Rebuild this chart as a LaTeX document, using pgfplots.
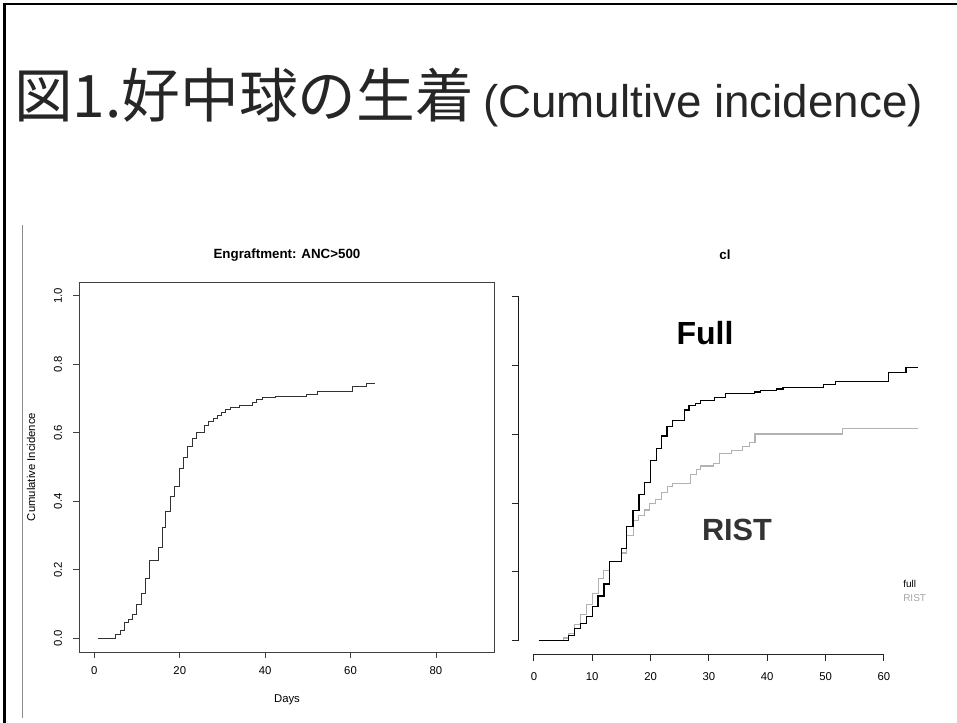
\documentclass[border=0pt]{standalone}
\usepackage{pgfplots}
\pgfplotsset{compat=1.18}
\usepackage{fontspec}
\setmainfont{Liberation Sans}
\newfontfamily\cjk{Noto Sans CJK JP}

\begin{document}
\begin{tikzpicture}
\begin{scope}[x=0.75pt,y=0.75pt]
\fill[white] (0,0) rectangle (957,723);

% slide frame
\draw[black, line width=2pt] (4.5,0) -- (4.5,720);
\draw[black, line width=1.8pt] (3.5,719) -- (957,719);
\draw[black!45, line width=0.7pt] (22,498) -- (22,5);

% slide heading
\node[anchor=base west, inner sep=0pt, black!85] at (14,605)
  {{\cjk\fontsize{44}{44}\selectfont 図1.好中球の生着}\hspace{7pt}\fontsize{34.3}{34.3}\selectfont(Cumultive incidence)};
\end{scope}

% ---------- left panel ----------
\begin{axis}[
  at={(59.25pt,53.25pt)}, anchor=south west, scale only axis,
  width=311.25pt, height=277.5pt,
  xmin=-3.6, xmax=93.6, ymin=-0.04, ymax=1.04,
  xtick={0,20,40,60,80}, xticklabels={0,20,40,60,80},
  ytick={0,0.2,0.4,0.6,0.8,1}, yticklabels={0.0,0.2,0.4,0.6,0.8,1.0},
  xtick pos=bottom, ytick pos=left,
  tick align=outside, major tick length=4.5pt,
  axis line style={black!75, line width=0.6pt},
  tick style={black!75, line width=0.6pt},
  ticklabel style={font=\fontsize{8.5}{10}\selectfont},
  xticklabel style={anchor=north, inner sep=0pt},
  yticklabel style={rotate=90, anchor=south, inner sep=0pt},
  xticklabel shift=6pt, yticklabel shift=8pt,
  /pgf/number format/assume math mode=true,
  clip=false,
]
\addplot[const plot, black!80, line width=0.6pt] coordinates {
 (0.8,0) (5.0,0.012) (6.0,0.022) (7.0,0.045) (8.0,0.054) (9.0,0.07) (9.8,0.10)
 (11.0,0.132) (12.0,0.174) (13.0,0.227) (15.0,0.266) (15.9,0.325) (16.7,0.369)
 (17.7,0.413) (18.8,0.442) (19.8,0.496) (20.8,0.528) (21.8,0.559) (22.9,0.583)
 (23.9,0.60) (25.8,0.62) (26.8,0.632) (27.8,0.642) (28.8,0.652) (29.8,0.659)
 (30.8,0.668) (31.8,0.674) (33.9,0.68) (37.0,0.688) (38.0,0.696) (39.4,0.702)
 (42.5,0.707) (49.6,0.712) (52.3,0.72) (60.5,0.735) (63.7,0.744) (65.8,0.744)
};
\end{axis}

% ---------- right panel ----------
\begin{axis}[
  at={(388.875pt,51.375pt)}, anchor=south west, scale only axis,
  width=311.25pt, height=278.6pt,
  xmin=-2.64, xmax=68.5, ymin=-0.04, ymax=1.04,
  axis x line*=bottom, axis y line*=left,
  axis line style={draw=none},
  xtick={0,10,20,30,40,50,60}, xticklabels={0,10,20,30,40,50,60},
  ytick={0,0.2,0.4,0.6,0.8,1}, yticklabels={},
  tick align=outside, major tick length=5pt,
  tick style={black!85, line width=0.7pt},
  ticklabel style={font=\fontsize{8.5}{10}\selectfont},
  xticklabel style={anchor=north, inner sep=0pt},
  xticklabel shift=8pt,
  /pgf/number format/assume math mode=true,
  clip=false,
]
\draw[black!85, line width=0.8pt] (axis cs:0,-0.04) -- (axis cs:60,-0.04);
\draw[black!90, line width=1pt] (axis cs:-2.64,0) -- (axis cs:-2.64,1);
\addplot[const plot, gray!60, line width=0.8pt] coordinates {
 (0.8,0) (5.0,0.008) (6.0,0.02) (7.0,0.046) (8.0,0.076) (9.0,0.105) (10.0,0.136)
 (11.0,0.18) (12.0,0.205) (13.0,0.23) (15.0,0.255) (15.8,0.305) (17.0,0.35)
 (18.0,0.365) (18.9,0.38) (19.8,0.40) (20.9,0.41) (21.8,0.432) (22.9,0.448)
 (23.8,0.456) (26.9,0.482) (27.8,0.497) (28.6,0.508) (30.8,0.515) (31.8,0.545)
 (33.8,0.553) (35.8,0.565) (36.9,0.576) (37.9,0.601) (52.9,0.618) (65.8,0.618)
};
\addplot[const plot, black, line width=0.9pt] coordinates {
 (0.8,0) (5.9,0.015) (7.0,0.035) (8.0,0.05) (9.0,0.07) (10.0,0.10) (11.0,0.13)
 (12.0,0.165) (13.0,0.23) (15.0,0.268) (15.9,0.332) (17.0,0.378) (18.0,0.425)
 (19.0,0.46) (20.0,0.525) (21.0,0.56) (21.9,0.595) (22.8,0.622) (23.8,0.64)
 (25.8,0.671) (26.6,0.683) (27.7,0.69) (28.6,0.698) (30.9,0.708) (32.8,0.719)
 (37.8,0.723) (38.9,0.727) (41.6,0.732) (42.7,0.737) (49.7,0.745) (51.7,0.754)
 (60.8,0.78) (63.8,0.794) (65.8,0.794)
};
\end{axis}

\begin{scope}[x=0.75pt,y=0.75pt]
% panel titles and labels
\node[font=\bfseries\fontsize{10}{12}\selectfont] at (287,468) {Engraftment: ANC>500};
\node[font=\fontsize{8.5}{10}\selectfont] at (287,23) {Days};
\node[font=\fontsize{8.5}{10}\selectfont, rotate=90] at (31,256) {Cumulative Incidence};
\node[font=\bfseries\fontsize{10}{12}\selectfont] at (725,468) {cl};
\node[font=\bfseries\fontsize{24}{24}\selectfont] at (705,390) {Full};
\node[font=\bfseries\fontsize{23}{23}\selectfont, black!80] at (737,193) {RIST};
\node[anchor=west, inner sep=0pt, font=\fontsize{7.5}{9}\selectfont] at (903,139) {full};
\node[anchor=west, inner sep=0pt, font=\fontsize{7.5}{9}\selectfont, gray!70] at (903,125) {RIST};

% page extent
\pgfresetboundingbox
\path[use as bounding box] (0,0) rectangle (957,723);
\end{scope}
\end{tikzpicture}
\end{document}
